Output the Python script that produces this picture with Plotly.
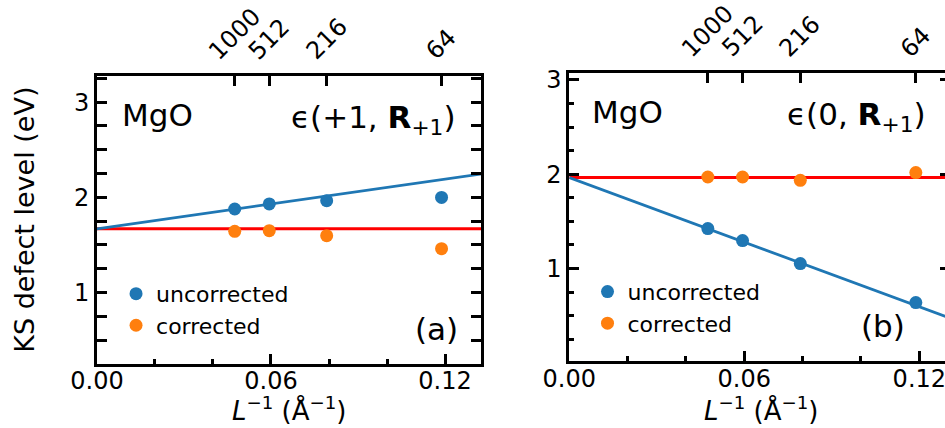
import plotly.graph_objects as go

# Supercell sizes (number of atoms) and inverse supercell length (1/Å)
cell_atoms = ["1000", "512", "216", "64"]
inv_L = [0.0475, 0.0594, 0.0792, 0.1188]

# Panel (a): eps(+1, R_+1)
a_uncorr = [1.878, 1.931, 1.965, 2.000]
a_corr = [1.643, 1.650, 1.598, 1.461]
a_fit = [1.67, 4.35]      # intercept, slope of uncorrected extrapolation
a_limit = 1.67            # extrapolated (dilute-limit) level

# Panel (b): eps(0, R_+1)
b_uncorr = [1.424, 1.297, 1.053, 0.640]
b_corr = [1.971, 1.971, 1.936, 2.018]
b_fit = [1.965, -11.42]
b_limit = 1.965

x_ticks = [0.0, 0.06, 0.12]
y_ticks = [1, 2, 3]

BLUE = "#1f77b4"
ORANGE = "#ff7f0e"
RED = "#ff0000"
FONT = "DejaVu Sans"

XR_A, XR_B = [0, 0.1324], [0, 0.1288]
YR_A, YR_B = [0.255, 3.275], [0.02, 3.07]
XD_A, XD_B = [0.1026, 0.509], [0.6024, 1.0]
YD_A, YD_B = [0.1507, 0.8224], [0.1565, 0.8287]

fig = go.Figure()


def add_panel(xa, ya, fit, limit, uncorr, corr, legend):
    xs = [0, 0.14]
    fig.add_trace(go.Scatter(x=xs, y=[limit, limit], mode="lines",
                             line=dict(color=RED, width=3), showlegend=False,
                             xaxis=xa, yaxis=ya))
    fig.add_trace(go.Scatter(x=xs, y=[fit[0] + fit[1] * v for v in xs], mode="lines",
                             line=dict(color=BLUE, width=2.8), showlegend=False,
                             xaxis=xa, yaxis=ya))
    fig.add_trace(go.Scatter(x=inv_L, y=uncorr, mode="markers", name="uncorrected",
                             marker=dict(color=BLUE, size=13), legend=legend,
                             xaxis=xa, yaxis=ya))
    fig.add_trace(go.Scatter(x=inv_L, y=corr, mode="markers", name="corrected",
                             marker=dict(color=ORANGE, size=13), legend=legend,
                             xaxis=xa, yaxis=ya))


add_panel("x", "y", a_fit, a_limit, a_uncorr, a_corr, "legend")
add_panel("x2", "y2", b_fit, b_limit, b_uncorr, b_corr, "legend2")

tickfont = dict(family=FONT, size=24, color="black")
titlefont = dict(family=FONT, size=26, color="black")

xcommon = dict(showgrid=False, zeroline=False, showline=True, linecolor="black",
               linewidth=3, mirror=True, ticks="inside", ticklen=10, tickwidth=2.5,
               tickcolor="black", tickvals=x_ticks, tickformat=".2f", tickfont=tickfont,
               ticklabeloverflow="allow", ticklabelstandoff=-6, automargin=False,
               minor=dict(ticks="inside", ticklen=5, tickwidth=2.5, tickcolor="black",
                          dtick=0.02, tick0=0))
ycommon = dict(showgrid=False, zeroline=False, showline=True, linecolor="black",
               linewidth=3, ticks="inside", ticklen=10, tickwidth=2.5,
               tickcolor="black", tickvals=y_ticks, tickfont=tickfont, automargin=False,
               minor=dict(ticks="inside", ticklen=5, tickwidth=2.5, tickcolor="black",
                          dtick=0.25, tick0=0))
topcommon = dict(side="top", showgrid=False, zeroline=False, showline=False,
                 ticks="inside", ticklen=10, tickwidth=2.5, tickcolor="black",
                 tickvals=inv_L, showticklabels=False, automargin=False)

fig.update_layout(
    width=945, height=428,
    margin=dict(l=0, r=0, t=0, b=0),
    paper_bgcolor="white", plot_bgcolor="white",
    font=dict(family=FONT, color="black"),
    xaxis=dict(domain=XD_A, range=XR_A, anchor="y", **xcommon),
    yaxis=dict(domain=YD_A, range=YR_A, anchor="x", mirror="allticks", **ycommon),
    xaxis2=dict(domain=XD_B, range=XR_B, anchor="y2", **xcommon),
    yaxis2=dict(domain=YD_B, range=YR_B, anchor="x2", mirror=False, **ycommon),
    xaxis3=dict(overlaying="x", anchor="y", range=XR_A, **topcommon),
    xaxis4=dict(overlaying="x2", anchor="y2", range=XR_B, **topcommon),
    yaxis4=dict(overlaying="y2", anchor="free", position=1.0, side="right",
                range=YR_B, showgrid=False, zeroline=False, showline=False,
                ticks="inside", ticklen=5, tickwidth=2.5, tickcolor="black",
                tickvals=y_ticks, showticklabels=False, automargin=False),
    legend=dict(x=0.1228, y=0.276, xanchor="left", yanchor="middle",
                bgcolor="rgba(0,0,0,0)", font=dict(family=FONT, size=22),
                itemclick=False),
    legend2=dict(x=0.6217, y=0.281, xanchor="left", yanchor="middle",
                 bgcolor="rgba(0,0,0,0)", font=dict(family=FONT, size=22),
                 itemclick=False),
)

# invisible traces to activate the overlay axes
for xa, ya in [("x3", "y"), ("x4", "y2"), ("x2", "y4")]:
    fig.add_trace(go.Scatter(x=[None], y=[None], xaxis=xa, yaxis=ya,
                             showlegend=False, hoverinfo="skip"))

big = dict(family=FONT, size=31, color="black")
ann = []
# axis titles
x_title = "<i>L</i><sup>−1</sup> (Å<sup>−1</sup>)"
ann.append(dict(xref="x domain", yref="paper", x=0.5, y=0.0, xanchor="center",
                yanchor="bottom", text=x_title, showarrow=False, font=titlefont))
ann.append(dict(xref="x2 domain", yref="paper", x=0.51, y=0.0, xanchor="center",
                yanchor="bottom", text=x_title, showarrow=False, font=titlefont))
ann.append(dict(xref="paper", yref="y domain", x=0.0265, y=0.5, xanchor="center",
                yanchor="middle", textangle=-90, text="KS defect level (eV)",
                showarrow=False, font=dict(family=FONT, size=27, color="black")))

# panel text labels
for xref, yref, mg_x, eps_x, eps_txt, lab_x, lab in [
    ("x domain", "y domain", 0.06, 0.94, "ϵ(+1, <b>R</b><sub>+1</sub>)", 0.885, "(a)"),
    ("x2 domain", "y2 domain", 0.055, 0.955, "ϵ(0, <b>R</b><sub>+1</sub>)", 0.835, "(b)"),
]:
    ann.append(dict(xref=xref, yref=yref, x=mg_x, y=0.865, xanchor="left",
                    yanchor="middle", text="MgO", showarrow=False, font=big))
    ann.append(dict(xref=xref, yref=yref, x=eps_x, y=0.85, xanchor="right",
                    yanchor="middle", text=eps_txt, showarrow=False, font=big))
    ann.append(dict(xref=xref, yref=yref, x=lab_x, y=0.12, xanchor="center",
                    yanchor="middle", text=lab, showarrow=False, font=big))

# supercell size labels along the top axis
for xref, yref in [("x", "y domain"), ("x2", "y2 domain")]:
    for xv, t in zip(inv_L, cell_atoms):
        ann.append(dict(xref=xref, yref=yref, x=xv, y=1.0, yshift=8,
                        xanchor="center", yanchor="bottom", textangle=-45,
                        text=t, showarrow=False, font=tickfont))

fig.update_layout(annotations=ann)
fig.write_html("out.html")
